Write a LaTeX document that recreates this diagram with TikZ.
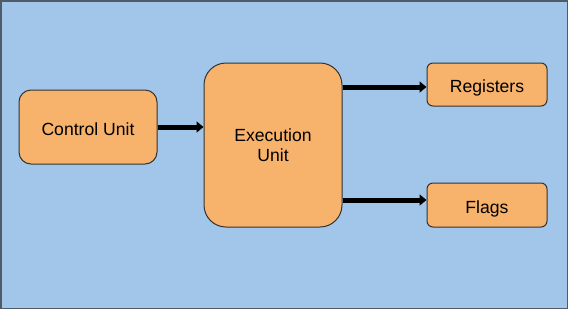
\documentclass[tikz,border=0pt]{standalone}
\usepackage{fontspec}
\setmainfont{Liberation Sans}
\usetikzlibrary{arrows.meta,positioning,calc}
\definecolor{bgblue}{HTML}{A1C6E9}
\definecolor{boxorange}{HTML}{F7B26C}
\definecolor{framegray}{HTML}{4F5B66}
\begin{document}
\begin{tikzpicture}[
  x=1pt, y=-1pt,
  font=\fontsize{17.6}{21}\selectfont,
  unit/.style={rectangle, draw=black!80, line width=1pt, fill=boxorange,
               align=center, inner sep=0pt},
  oneline/.style={text height=16pt, text depth=0pt},
  ar/.style={-{Triangle[length=7pt,width=11pt]}, line width=5pt}
]
\useasboundingbox (0,0) rectangle (568,309);
\draw[framegray, line width=1.5pt, fill=bgblue] (0.75,0.75) rectangle (567.25,308.25);

\node[unit, oneline, rounded corners=12pt, minimum width=138pt, minimum height=74pt]  (cu)  at (88,127)   {Control Unit};
\node[unit, rounded corners=22pt, minimum width=138pt, minimum height=164pt]          (eu)  at (273,145)  {\raisebox{-1pt}{Execution}\\Unit};
\node[unit, oneline, rounded corners=6pt,  minimum width=120pt, minimum height=43pt]  (reg) at (487,84.5) {Registers};
\node[unit, oneline, rounded corners=6pt,  minimum width=120pt, minimum height=44pt]  (flg) at (487,205)  {Flags};

\draw[ar] (cu.east) -- (cu.east -| eu.west);
\draw[ar] ([yshift=-2.5pt]reg.west -| eu.east) -- ([yshift=-2.5pt]reg.west);
\draw[ar] ([yshift=5pt]flg.west -| eu.east) -- ([yshift=5pt]flg.west);
\end{tikzpicture}
\end{document}
